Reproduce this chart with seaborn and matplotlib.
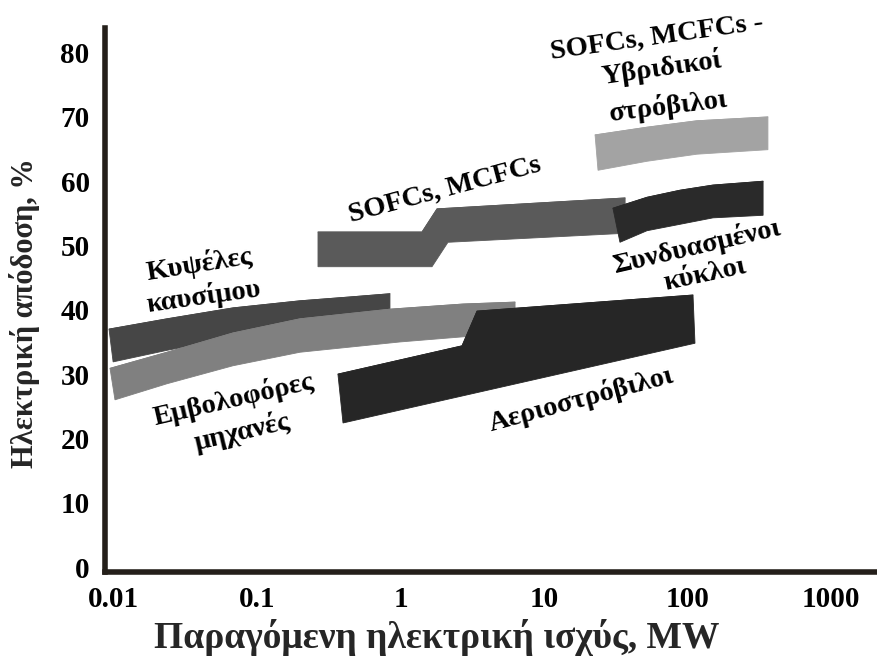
import matplotlib
matplotlib.use("Agg")
import matplotlib.pyplot as plt
import seaborn as sns
import pandas as pd

# ---------------- data (power in MW, efficiency in %) ----------------
# Fuel cells
fc_top_x = [0.00927, 0.0235, 0.0678, 0.1985, 0.443, 0.841]
fc_top_y = [37.0, 38.6, 40.3, 41.4, 42.0, 42.5]
fc_bot_x = [0.0099, 0.0235, 0.0678, 0.1985, 0.841]
fc_bot_y = [31.9, 33.7, 35.6, 37.2, 38.7]

# Reciprocating engines
re_top_x = [0.00942, 0.0235, 0.0678, 0.1985, 0.841, 2.72, 6.26]
re_top_y = [30.9, 33.4, 36.4, 38.6, 40.1, 40.9, 41.2]
re_bot_x = [0.0102, 0.0235, 0.0678, 0.1985, 0.988, 2.72, 6.26]
re_bot_y = [26.0, 28.5, 31.3, 33.4, 35.0, 35.8, 36.1]

# Gas turbines
gt_top_x = [0.365, 2.673, 3.40, 108.8]
gt_top_y = [30.0, 34.4, 39.8, 42.3]
gt_bot_x = [0.396, 112.3]
gt_bot_y = [22.4, 34.8]

# SOFCs, MCFCs
so_top_x = [0.265, 1.406, 1.789, 36.6]
so_top_y = [52.1, 52.1, 55.7, 57.4]
so_bot_x = [0.265, 1.651, 2.133, 36.6]
so_bot_y = [46.7, 46.7, 50.5, 51.9]

# Combined cycles
cc_top_x = [30.1, 52.0, 88.4, 150.0, 258.8, 335.0]
cc_top_y = [55.8, 57.5, 58.6, 59.4, 59.8, 60.0]
cc_bot_x = [33.7, 52.0, 88.4, 150.0, 335.0]
cc_bot_y = [50.5, 52.3, 53.3, 54.3, 54.7]

# SOFC/MCFC - hybrid turbines
hy_top_x = [22.6, 52.0, 116.0, 362.0]
hy_top_y = [67.2, 68.4, 69.4, 70.0]
hy_bot_x = [23.7, 52.0, 116.0, 362.0]
hy_bot_y = [61.7, 63.1, 64.2, 64.9]

x_ticks = [0.01, 0.1, 1, 10, 100, 1000]
x_tick_labels = ["0.01", "0.1", "1", "10", "100", "1000"]
y_ticks = [0, 10, 20, 30, 40, 50, 60, 70, 80]

bands = [
    ("Κυψέλες καυσίμου", fc_top_x, fc_top_y, fc_bot_x, fc_bot_y, "#464646"),
    ("Εμβολοφόρες μηχανές", re_top_x, re_top_y, re_bot_x, re_bot_y, "#808080"),
    ("Αεριοστρόβιλοι", gt_top_x, gt_top_y, gt_bot_x, gt_bot_y, "#262626"),
    ("SOFCs, MCFCs", so_top_x, so_top_y, so_bot_x, so_bot_y, "#5a5a5a"),
    ("Συνδυασμένοι κύκλοι", cc_top_x, cc_top_y, cc_bot_x, cc_bot_y, "#2a2a2a"),
    ("Υβριδικοί", hy_top_x, hy_top_y, hy_bot_x, hy_bot_y, "#a3a3a3"),
]

# ---------------- style ----------------
sns.set_theme(style="white")
plt.rcParams["font.family"] = ["Liberation Serif", "DejaVu Serif"]
plt.rcParams["font.weight"] = "bold"

W, H = 877, 664
fig = plt.figure(figsize=(W / 100, H / 100), dpi=100)
ax = fig.add_axes([105 / W, (H - 572) / H, 1 - 105 / W, (572 - 28) / H])
ax.set_xscale("log")
ax.set_xlim(10 ** (-2 + (105 - 113.75) / 143.5), 10 ** (-2 + (877 - 113.75) / 143.5))
ax.set_ylim((567 - 572) / 6.43, (567 - 28) / 6.43)

for name, tx, ty, bx, by, col in bands:
    xs = list(tx) + list(bx)[::-1]
    ys = list(ty) + list(by)[::-1]
    ax.fill(xs, ys, color=col, lw=0.6, ec=col, zorder=2)
    df = pd.DataFrame({"x": tx, "y": ty})
    sns.lineplot(data=df, x="x", y="y", ax=ax, color=col, lw=0.6, sort=False, zorder=2)

ax.set_xlabel("")
ax.set_ylabel("")
ax.set_xticks(x_ticks)
ax.set_xticklabels(x_tick_labels)
ax.set_yticks(y_ticks)
ax.minorticks_off()
ax.tick_params(axis="both", length=0, labelsize=21, colors="black")
ax.tick_params(axis="x", pad=10)
ax.tick_params(axis="y", pad=11)
for lab in ax.get_xticklabels() + ax.get_yticklabels():
    lab.set_fontweight("bold")

for s in ["top", "right"]:
    ax.spines[s].set_visible(False)
for s in ["left", "bottom"]:
    ax.spines[s].set_color("#241f1a")
    ax.spines[s].set_linewidth(4.0)

# annotations
tkw = dict(ha="center", va="center", fontsize=20.5, fontweight="bold",
           rotation_mode="anchor", color="black", zorder=3)
ax.text(0.0393, 47.0, "Κυψέλες", rotation=9, **tkw)
ax.text(0.0425, 42.0, "καυσίμου", rotation=8, **tkw)
ax.text(2.03, 58.6, "SOFCs, MCFCs", rotation=15, **tkw)
ax.text(61.1, 82.3, "SOFCs, MCFCs -", rotation=8, **tkw)
ax.text(66.2, 77.6, "Υβριδικοί", rotation=8, **tkw)
ax.text(72.9, 71.7, "στρόβιλοι", rotation=7, **tkw)
ax.text(116, 49.8, "Συνδυασμένοι", rotation=13, **tkw)
ax.text(132, 45.4, "κύκλοι", rotation=12, **tkw)
ax.text(0.0678, 26.0, "Εμβολοφόρες", rotation=13, **tkw)
ax.text(0.0783, 21.0, "μηχανές", rotation=13, **tkw)
ax.text(18.0, 26.1, "Αεριοστρόβιλοι", rotation=15, **tkw)

fig.text(25 / W, 1 - 313 / H, "Ηλεκτρική απόδοση, %", rotation=90,
         ha="center", va="center", fontsize=22, fontweight="bold")
fig.text(437 / W, 1 - 638 / H, "Παραγόμενη ηλεκτρική ισχύς, MW",
         ha="center", va="center", fontsize=27, fontweight="bold")

fig.savefig("out.png", dpi=100, facecolor="white")
